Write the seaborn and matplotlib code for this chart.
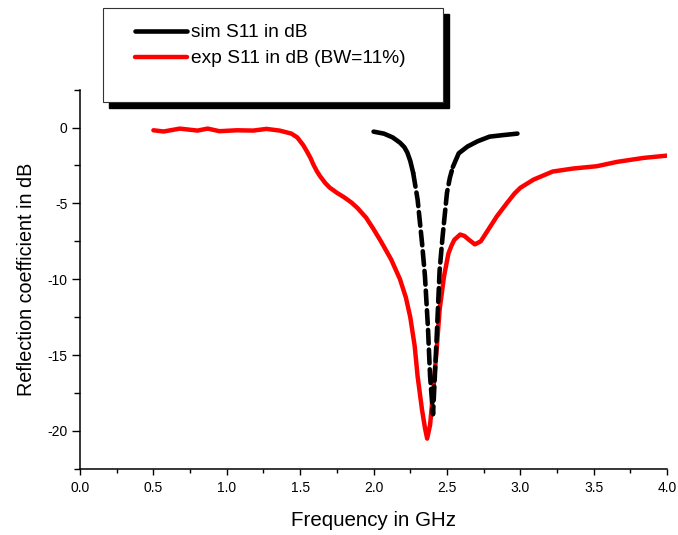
import numpy as np
import pandas as pd
import matplotlib
matplotlib.use('Agg')
import matplotlib.pyplot as plt
import seaborn as sns
from matplotlib.patches import Rectangle
from matplotlib.ticker import MultipleLocator, FormatStrFormatter

# ---- data ----
exp_f = [0.5, 0.57, 0.68, 0.8, 0.87, 0.95, 1.07, 1.18, 1.27, 1.36, 1.44,
         1.48, 1.52, 1.545, 1.57, 1.59, 1.615, 1.635, 1.67, 1.7, 1.75, 1.8,
         1.85, 1.89, 1.95, 2.0, 2.05, 2.12, 2.18, 2.22, 2.25, 2.28, 2.3,
         2.33, 2.35, 2.365, 2.385, 2.405, 2.43, 2.45, 2.48, 2.51, 2.53, 2.55,
         2.59, 2.62, 2.65, 2.69, 2.73, 2.77, 2.84, 2.91, 2.96, 3.0, 3.09,
         3.22, 3.36, 3.52, 3.66, 3.84, 4.0]
exp_db = [-0.18, -0.26, -0.07, -0.2, -0.07, -0.24, -0.18, -0.2, -0.09, -0.2,
          -0.4, -0.65, -1.15, -1.56, -2.0, -2.44, -2.9, -3.2, -3.65, -3.95,
          -4.3, -4.6, -4.95, -5.3, -5.95, -6.7, -7.5, -8.7, -10.0, -11.2,
          -12.5, -14.4, -16.4, -18.6, -19.8, -20.5, -19.6, -17.5, -14.6,
          -12.0, -9.8, -8.3, -7.8, -7.4, -7.05, -7.15, -7.4, -7.7, -7.5,
          -6.9, -5.85, -4.96, -4.35, -3.97, -3.43, -2.9, -2.7, -2.55, -2.26,
          -2.0, -1.85]

sim_f = [2.0, 2.07, 2.13, 2.18, 2.21, 2.23, 2.25, 2.27, 2.30, 2.33, 2.35,
         2.37, 2.385, 2.405, 2.43, 2.45, 2.47, 2.50, 2.52, 2.54, 2.58, 2.64,
         2.71, 2.79, 2.88, 2.98]
sim_db = [-0.27, -0.4, -0.65, -1.0, -1.3, -1.65, -2.2, -3.0, -4.75, -7.6,
          -9.8, -13.1, -16.4, -18.9, -13.8, -9.4, -7.2, -4.3, -3.3, -2.6,
          -1.7, -1.25, -0.9, -0.6, -0.5, -0.4]

labels = ['sim S11 in dB', 'exp S11 in dB (BW=11%)']

exp_df = pd.DataFrame({'f': exp_f, 'db': exp_db})
sim_df = pd.DataFrame({'f': sim_f, 'db': sim_db})

# the simulated trace shows as broken dashes along its steep flanks
i_lo, i_hi = 7, 19

sns.set_style('ticks')
plt.rcParams['font.family'] = ['Liberation Sans', 'DejaVu Sans']
plt.rcParams['axes.unicode_minus'] = False
plt.rcParams['lines.solid_capstyle'] = 'round'
plt.rcParams['lines.solid_joinstyle'] = 'round'
for key in ['text.color', 'axes.labelcolor', 'xtick.color', 'ytick.color',
            'axes.edgecolor']:
    plt.rcParams[key] = 'black'

fig = plt.figure(figsize=(6.78, 5.35), dpi=100)
ax = fig.add_axes([0.118, 0.1235, 0.866, 0.709])

sns.lineplot(data=exp_df, x='f', y='db', ax=ax, color='#ff0000', lw=3.2,
             sort=False, estimator=None, label=labels[1], legend=False)
sns.lineplot(data=sim_df.iloc[:i_lo + 1], x='f', y='db', ax=ax, color='black',
             lw=3.3, sort=False, estimator=None, label=labels[0], legend=False)
sns.lineplot(data=sim_df.iloc[i_lo:i_hi + 1], x='f', y='db', ax=ax,
             color='black', lw=3.3, sort=False, estimator=None, legend=False)
ax.lines[-1].set_dashes((3.0, 1.3))
ax.lines[-1].set_dash_capstyle('round')
sns.lineplot(data=sim_df.iloc[i_hi:], x='f', y='db', ax=ax, color='black',
             lw=3.3, sort=False, estimator=None, legend=False)

ax.set_xlim(0, 4)
ax.set_ylim(-22.5, 2.5)
ax.xaxis.set_major_locator(MultipleLocator(0.5))
ax.xaxis.set_minor_locator(MultipleLocator(0.25))
ax.xaxis.set_major_formatter(FormatStrFormatter('%.1f'))
ax.yaxis.set_major_locator(MultipleLocator(5))
ax.yaxis.set_minor_locator(MultipleLocator(2.5))
ax.yaxis.set_major_formatter(FormatStrFormatter('%d'))
ax.tick_params(axis='x', which='major', length=4, width=1, labelsize=10,
               pad=5)
ax.tick_params(axis='x', which='minor', length=3, width=1)
ax.tick_params(axis='y', which='major', length=6, width=1, labelsize=10,
               pad=3)
ax.tick_params(axis='y', which='minor', length=4, width=1)
sns.despine(ax=ax)
for s in ['left', 'bottom']:
    ax.spines[s].set_linewidth(1.1)

ax.set_xlabel('Frequency in GHz', fontsize=14.8, labelpad=11)
ax.set_ylabel('Reflection coefficient in dB', fontsize=14.2, labelpad=8)

# Origin-style legend box with a solid drop shadow
fig.patches.append(Rectangle((109 / 678, 1 - 108 / 535), 340 / 678, 94 / 535,
                             transform=fig.transFigure, facecolor='black',
                             edgecolor='black', zorder=5))
fig.patches.append(Rectangle((103 / 678, 1 - 102 / 535), 340 / 678, 94 / 535,
                             transform=fig.transFigure, facecolor='white',
                             edgecolor='#333333', lw=0.8, zorder=6))

handles, _ = ax.get_legend_handles_labels()
order = [1, 0]
leg = fig.legend([handles[i] for i in order], labels, loc='upper left',
                 bbox_to_anchor=(135 / 678, 1 - 24 / 535), frameon=False,
                 fontsize=13.8, handlelength=2.7, handletextpad=0.2,
                 labelspacing=0.45, borderpad=0, borderaxespad=0)
leg.set_zorder(7)

fig.savefig('out.png', dpi=100)
